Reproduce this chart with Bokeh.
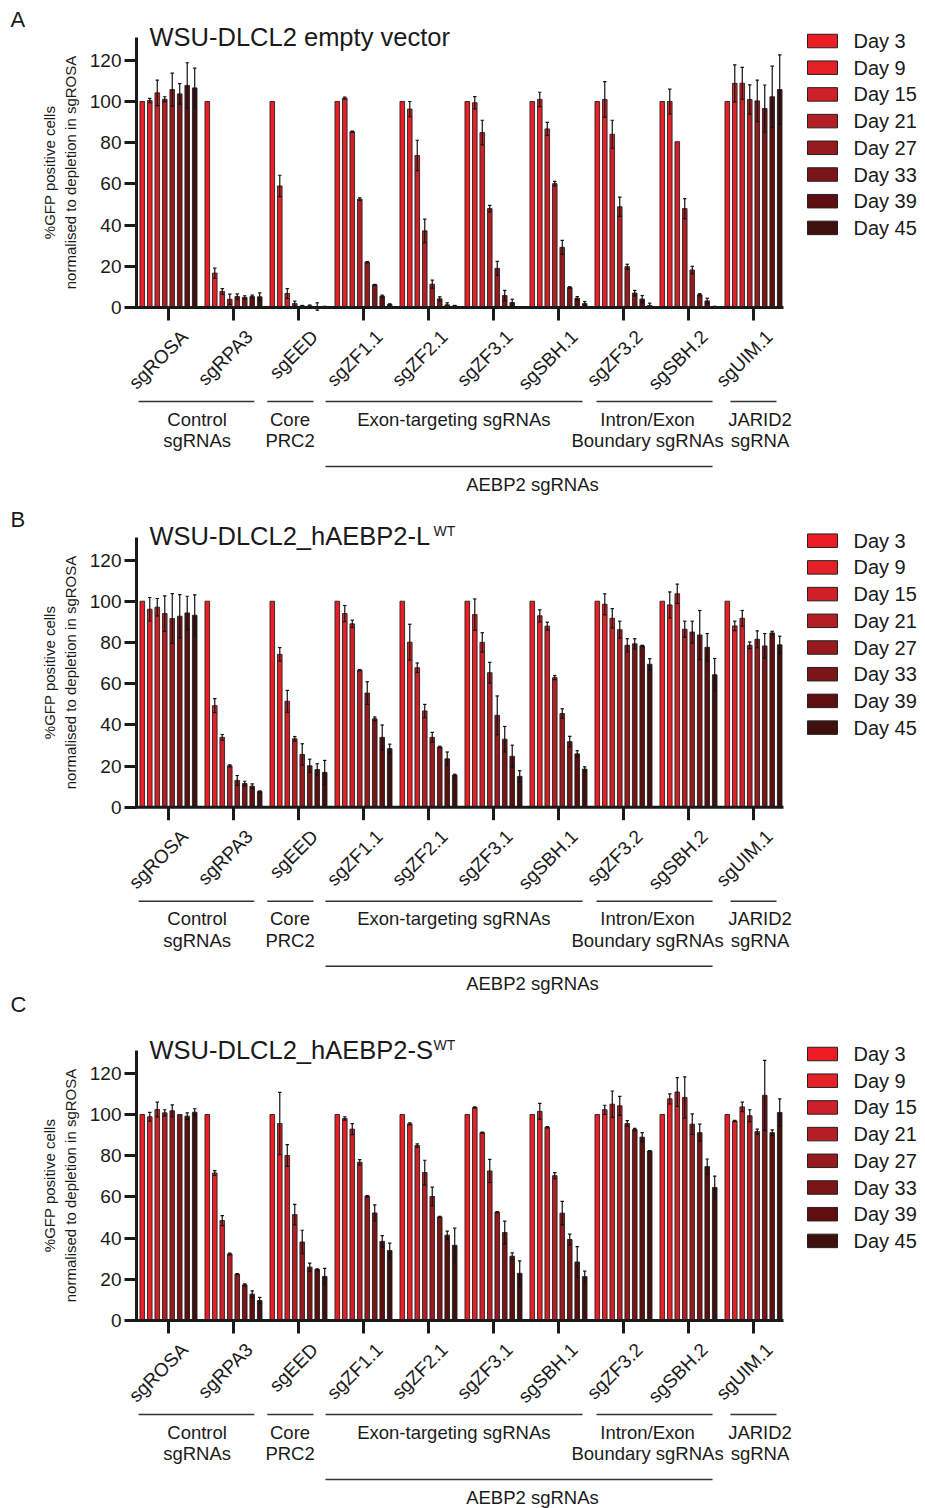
import math
from bokeh.plotting import figure
from bokeh.models import Range1d, FixedTicker, LinearAxis, ColumnDataSource
from bokeh.layouts import column
from bokeh.embed import file_html
from bokeh.resources import INLINE
from bokeh.core.properties import value

FONT = "Liberation Sans"

# ---------------- data ----------------
CATEGORIES = ["sgROSA", "sgRPA3", "sgEED", "sgZF1.1", "sgZF2.1", "sgZF3.1",
              "sgSBH.1", "sgZF3.2", "sgSBH.2", "sgUIM.1"]
DAYS = ["Day 3", "Day 9", "Day 15", "Day 21", "Day 27", "Day 33", "Day 39", "Day 45"]
DAY_COLORS = ["#EE1D25", "#E42127", "#CF2027", "#B51E24", "#971A1E", "#7B1517", "#5E0E0F", "#40100E"]
Y_TICKS = [0, 20, 40, 60, 80, 100, 120]

GROUP_LINE1 = ["Control", "Core", "Exon-targeting sgRNAs", "Intron/Exon", "JARID2"]
GROUP_LINE2 = ["sgRNAs", "PRC2", "", "Boundary sgRNAs", "sgRNA"]
SUPER_GROUP = "AEBP2 sgRNAs"

TITLE_A = "WSU-DLCL2 empty vector"
TITLE_B = "WSU-DLCL2_hAEBP2-L"
TITLE_C = "WSU-DLCL2_hAEBP2-S"
TITLE_SUP = "WT"
Y_LABEL = "%GFP positive cells\nnormalised to depletion in sgROSA"

# Panel A: empty vector (rows = sgRNAs, columns = days)
A_MEAN = [
    [100, 100.5, 104.2, 101.1, 105.8, 103.7, 107.8, 106.6],
    [100, 16.7, 7.8, 4.0, 5.3, 4.9, 5.3, 5.2],
    [100, 59.0, 6.8, 1.9, 0.8, 0.8, 0.5, 0.5],
    [100, 101.6, 85.3, 52.6, 22.0, 11.0, 5.5, 1.5],
    [100, 96.3, 73.8, 37.2, 11.3, 4.2, 1.3, 0.8],
    [100, 99.4, 84.9, 48.0, 19.0, 5.8, 2.4, 0.3],
    [100, 101.0, 86.7, 60.1, 29.2, 9.7, 4.5, 1.9],
    [100, 101.0, 84.1, 48.9, 19.8, 7.0, 4.1, 1.0],
    [100, 100.0, 80.5, 48.0, 18.2, 6.2, 3.2, 0.5],
    [100, 108.8, 108.9, 101.0, 100.3, 96.6, 102.3, 105.8],
]
A_SD = [
    [0, 1.0, 6.2, 1.2, 8.0, 5.0, 11.0, 9.6],
    [0, 2.4, 1.4, 2.5, 1.3, 0.8, 0.7, 1.9],
    [0, 5.2, 2.4, 1.2, 0.2, 0.4, 1.8, 0.1],
    [0, 0.5, 0.3, 0.6, 0.3, 0.2, 0.5, 0.3],
    [0, 3.7, 7.4, 5.7, 2.0, 1.0, 1.0, 0.2],
    [0, 3.0, 6.0, 1.6, 3.4, 2.5, 1.6, 0.1],
    [0, 3.5, 3.2, 1.1, 3.4, 0.4, 0.8, 1.0],
    [0, 8.6, 6.8, 4.7, 1.2, 1.3, 1.7, 1.1],
    [0, 6.0, 0.0, 4.9, 1.8, 0.5, 1.3, 0.1],
    [0, 9.0, 7.7, 7.1, 10.1, 11.4, 14.9, 16.8],
]

# Panel B: hAEBP2-L WT
B_MEAN = [
    [100, 96.1, 97.1, 94.0, 91.6, 92.7, 94.3, 93.2],
    [100, 49.3, 33.9, 20.1, 13.0, 11.5, 10.2, 7.6],
    [100, 74.2, 51.4, 33.2, 25.6, 20.1, 18.3, 16.9],
    [100, 94.0, 89.0, 66.5, 55.4, 42.9, 33.9, 28.4],
    [100, 80.1, 67.7, 46.7, 33.9, 29.2, 23.5, 15.6],
    [100, 93.5, 80.0, 65.3, 44.6, 33.0, 24.7, 15.0],
    [100, 92.9, 87.9, 62.9, 45.5, 31.8, 25.9, 18.5],
    [100, 98.5, 91.7, 86.2, 78.6, 79.3, 78.3, 69.4],
    [100, 98.2, 103.6, 86.4, 85.0, 83.6, 77.6, 64.3],
    [100, 88.0, 91.7, 78.6, 81.5, 78.3, 84.6, 78.8],
]
B_SD = [
    [0, 5.7, 4.2, 8.6, 12.1, 10.5, 8.1, 9.9],
    [0, 3.4, 1.4, 0.5, 2.4, 1.1, 1.1, 0.3],
    [0, 3.3, 5.3, 1.1, 5.2, 3.2, 2.8, 5.8],
    [0, 3.9, 1.8, 0.3, 5.5, 0.9, 6.0, 2.2],
    [0, 8.7, 2.3, 3.2, 2.4, 0.4, 3.3, 0.4],
    [0, 7.6, 4.7, 5.0, 9.4, 6.2, 5.4, 2.7],
    [0, 2.9, 1.9, 1.0, 2.3, 2.6, 1.5, 1.1],
    [0, 5.1, 4.7, 4.1, 3.2, 2.5, 0.3, 2.7],
    [0, 6.3, 4.7, 3.9, 5.3, 11.9, 6.7, 7.9],
    [0, 2.3, 3.8, 1.6, 4.1, 6.0, 0.8, 4.2],
]

# Panel C: hAEBP2-S WT
C_MEAN = [
    [100, 98.9, 102.4, 100.8, 101.8, 100.0, 99.2, 101.1],
    [100, 71.6, 48.5, 32.3, 22.5, 17.3, 12.8, 9.7],
    [100, 95.6, 80.1, 51.4, 38.1, 25.9, 24.8, 21.4],
    [100, 98.1, 92.9, 76.8, 60.3, 52.2, 38.4, 34.0],
    [100, 95.5, 84.9, 71.8, 60.2, 50.3, 41.4, 36.5],
    [100, 103.4, 91.2, 72.6, 52.6, 42.7, 31.2, 22.9],
    [100, 101.5, 93.8, 70.3, 52.1, 39.3, 28.4, 21.3],
    [100, 102.3, 105.0, 104.2, 95.6, 92.7, 89.0, 82.3],
    [100, 107.6, 110.9, 108.3, 95.3, 91.2, 74.7, 64.6],
    [100, 96.8, 103.7, 99.4, 91.7, 109.3, 91.2, 101.0],
]
C_SD = [
    [0, 2.1, 3.6, 1.5, 2.9, 0.0, 1.6, 1.7],
    [0, 1.2, 2.4, 0.4, 0.3, 0.5, 1.6, 1.5],
    [0, 15.1, 5.3, 5.0, 5.7, 2.0, 0.3, 3.9],
    [0, 0.8, 2.7, 1.3, 0.3, 3.9, 2.8, 3.6],
    [0, 0.5, 0.8, 6.0, 4.5, 0.3, 2.0, 8.3],
    [0, 0.3, 0.3, 5.6, 0.3, 5.5, 1.6, 6.0],
    [0, 3.9, 0.3, 1.5, 5.7, 2.6, 7.5, 2.7],
    [0, 2.2, 6.4, 4.6, 1.4, 0.6, 2.2, 0.2],
    [0, 2.4, 7.0, 10.0, 5.0, 4.1, 3.7, 5.5],
    [0, 0.3, 2.3, 2.9, 1.2, 17.0, 1.3, 6.6],
]

# ---------------- layout constants ----------------
W = 925
GROUP_PX = 65.0            # px per sgRNA group
FIRST_CENTER = 168.0       # px of first group centre


def gx(px):
    """page x (px) -> group units"""
    return (px - FIRST_CENTER) / GROUP_PX


X0 = gx(0)
X1 = gx(W)
Y_AXIS_X = gx(136)
AXIS_END = gx(783)
SCALE = 2.06               # px per y unit
PITCH = 7.49 / GROUP_PX
BAR_W = 4.6 / GROUP_PX
CAP = 3.4 / GROUP_PX
Y_TOP = 130.9

BRACKETS = [(-0.46, 1.32), (1.52, 2.23), (2.415, 6.37), (6.585, 8.37), (8.646, 9.354)]
BRACKET_TEXT_X = [0.44, 1.87, 4.39, 7.37, 9.1]
SUPER_BRACKET = (2.415, 8.37)
SUPER_TEXT_X = 5.6
INK = "#1a1a1a"


def txt(p, x, y, text, size, align="left", **kw):
    p.text(x=x, y=y, text=text, text_align=align, text_baseline="middle",
           text_font=value(FONT), text_font_size=size, text_color=INK, **kw)


def make_panel(letter, title, sup, means, sds, height, zero_px, extra_letter_y=None,
               extra_letter=None):
    s = SCALE
    p = figure(width=W, height=height, output_backend="svg", toolbar_location=None,
               x_range=Range1d(X0, X1),
               y_range=Range1d(-(height - zero_px) / s, zero_px / s),
               min_border_left=0, min_border_right=0, min_border_top=0,
               min_border_bottom=0, x_axis_location=None, y_axis_location=None)
    p.outline_line_color = None
    p.xgrid.visible = False
    p.ygrid.visible = False
    p.background_fill_color = "white"
    p.border_fill_color = "white"

    ax = LinearAxis(fixed_location=Y_AXIS_X, bounds=(0, Y_TOP),
                    ticker=FixedTicker(ticks=Y_TICKS))
    ax.minor_tick_line_color = None
    ax.major_tick_in = 0
    ax.major_tick_out = 12
    ax.major_tick_line_width = 3
    ax.major_tick_line_color = INK
    ax.axis_line_width = 3
    ax.axis_line_color = INK
    ax.major_label_text_font = FONT
    ax.major_label_text_font_size = "19px"
    ax.major_label_text_color = INK
    ax.major_label_standoff = 3
    ax.axis_label = Y_LABEL
    ax.axis_label_text_font = FONT
    ax.axis_label_text_font_size = "15px"
    ax.axis_label_text_font_style = "normal"
    ax.axis_label_text_color = INK
    ax.axis_label_standoff = 8
    p.add_layout(ax, "left")

    n = len(CATEGORIES)
    idx = list(range(n))

    # bars, one renderer per day
    for k, day in enumerate(DAYS):
        src = ColumnDataSource(dict(
            x=[i + (k - 3.5) * PITCH for i in idx],
            top=[means[i][k] for i in idx]))
        p.vbar(x="x", top="top", bottom=0, width=BAR_W, source=src,
               fill_color=DAY_COLORS[k], line_color="#222222", line_width=0.9)

    # error bars (mean +/- SD)
    ex, ylo, yhi = [], [], []
    for i in idx:
        for k in range(len(DAYS)):
            if sds[i][k] > 0:
                ex.append(i + (k - 3.5) * PITCH)
                ylo.append(means[i][k] - sds[i][k])
                yhi.append(means[i][k] + sds[i][k])
    p.segment(x0=ex, y0=ylo, x1=ex, y1=yhi, line_color="#111111", line_width=1.2)
    p.segment(x0=[x - CAP / 2 for x in ex], y0=yhi, x1=[x + CAP / 2 for x in ex], y1=yhi,
              line_color="#111111", line_width=1.2)
    p.segment(x0=[x - CAP / 2 for x in ex], y0=ylo, x1=[x + CAP / 2 for x in ex], y1=ylo,
              line_color="#111111", line_width=1.2)

    # x axis line + ticks + rotated category labels
    p.segment(x0=[Y_AXIS_X - 1.5 / GROUP_PX], y0=[0], x1=[AXIS_END], y1=[0],
              line_color=INK, line_width=3)
    p.segment(x0=idx, y0=[0] * n, x1=idx, y1=[-13 / s] * n, line_color=INK, line_width=3)
    txt(p, idx, [0] * n, CATEGORIES, "19px", align="right",
        angle=math.pi / 4, x_offset=16, y_offset=26)

    # group brackets
    p.segment(x0=[b[0] for b in BRACKETS], y0=[-94 / s] * len(BRACKETS),
              x1=[b[1] for b in BRACKETS], y1=[-94 / s] * len(BRACKETS),
              line_color="#333333", line_width=1.4)
    txt(p, BRACKET_TEXT_X, [-111.5 / s] * 5, GROUP_LINE1, "18.5px", align="center")
    txt(p, BRACKET_TEXT_X, [-133 / s] * 5, GROUP_LINE2, "18.5px", align="center")
    p.segment(x0=[SUPER_BRACKET[0]], y0=[-159 / s], x1=[SUPER_BRACKET[1]], y1=[-159 / s],
              line_color="#333333", line_width=1.4)
    txt(p, [SUPER_TEXT_X], [-176.5 / s], [SUPER_GROUP], "18.5px", align="center")

    # panel title (+ optional superscript)
    txt(p, [gx(149)], [271 / s], [title], "25.5px")
    if sup:
        txt(p, [gx(433)], [276 / s], [sup], "14px")

    # legend (swatch + label per day)
    ly = [(266.5 - 26.7 * k) / s for k in range(len(DAYS))]
    p.rect(x=[gx(822)] * len(DAYS), y=ly, width=30 / GROUP_PX, height=13.5 / s,
           fill_color=DAY_COLORS, line_color="#222222", line_width=1)
    txt(p, [gx(853)] * len(DAYS), ly, DAYS, "20px")

    # panel letters
    txt(p, [gx(10)], [288 / s], [letter], "22px")
    if extra_letter:
        txt(p, [gx(10)], [extra_letter_y / s], [extra_letter], "22px")
    return p


pa = make_panel("A", TITLE_A, None, A_MEAN, A_SD, 500, 307)
pb = make_panel("B", TITLE_B, TITLE_SUP, B_MEAN, B_SD, 518, 806.7 - 500,
                extra_letter_y=806.7 - 1004, extra_letter="C")
pc = make_panel("", TITLE_C, TITLE_SUP, C_MEAN, C_SD, 490, 1320 - 1018)

layout = column(pa, pb, pc, spacing=0)
open("out.html", "w").write(file_html(layout, INLINE))
